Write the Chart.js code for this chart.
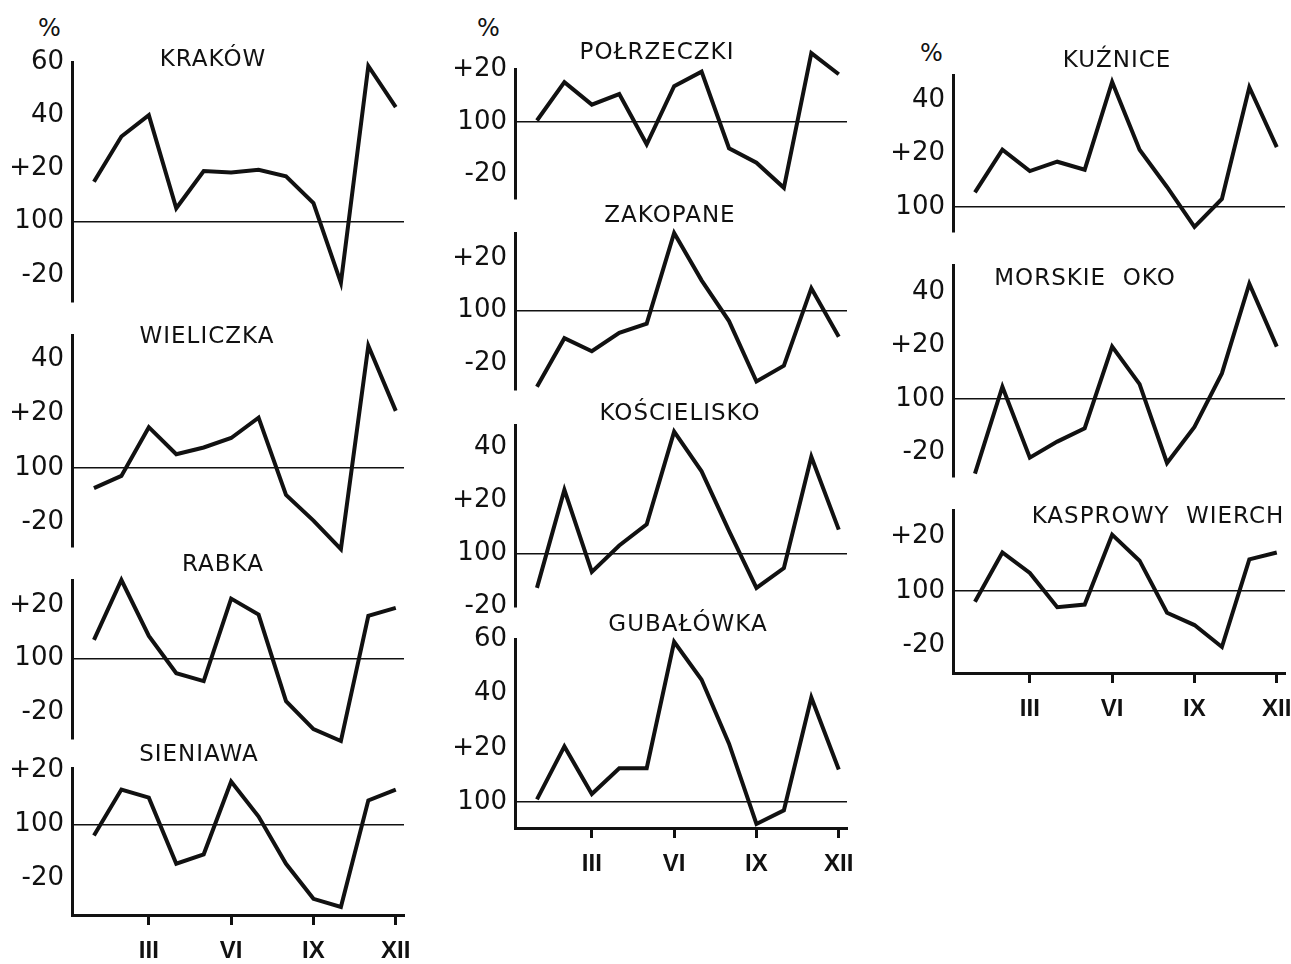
<!DOCTYPE html>
<html>
<head>
<meta charset="utf-8">
<script src="https://cdn.jsdelivr.net/npm/chart.js@4"></script>
<style>
  body { margin: 0; background: #fff; width: 1291px; height: 964px; position: relative; overflow: hidden; }
  .panel { position: absolute; }
  .pct { position: absolute; font: 24px "DejaVu Sans"; color: #111; line-height: 1; }
</style>
</head>
<body>
<div class="pct" style="left:38px;top:16px">%</div>
<div class="pct" style="left:477px;top:16px">%</div>
<div class="pct" style="left:920px;top:41px">%</div>
<script>
// months and tick labels
const months = ["I", "II", "III", "IV", "V", "VI", "VII", "VIII", "IX", "X", "XI", "XII"];
const xTickMonths = [3, 6, 9, 12];
const yTickValues = [-20, 0, 20, 40, 60];
const yTickLabels = ["-20", "100", "+20", "40", "60"];

// deviation from the yearly mean (100 = mean), Jan..Dec
const krakow = [15, 32, 40, 5, 19, 18.5, 19.5, 17, 7, -23, 58.5, 43];
const wieliczka = [-7.5, -3, 15, 5, 7.5, 11, 18.5, -10, -19.5, -30, 45, 21];
const rabka = [7, 29.5, 8.5, -5.5, -8.5, 22.5, 16.5, -16, -26.5, -31, 16, 19];
const sieniawa = [-4, 13, 10, -14.5, -11, 16, 3, -14.5, -27.5, -30.5, 9, 13];
const polrzeczki = [0.5, 15, 6.5, 10.5, -8.5, 13.5, 19, -10, -15.5, -25, 26, 18];
const zakopane = [-29, -10.5, -15.5, -8.5, -5, 29.5, 11.5, -4, -27, -21, 8.5, -10];
const koscielisko = [-13, 24, -7, 3, 11, 46, 31, 8.5, -13, -5.5, 36.5, 9];
const gubalowka = [1, 20.5, 3, 12.5, 12.5, 59, 45, 21.5, -8, -3, 38.5, 12];
const kuznice = [5.5, 21.5, 13.5, 17, 14, 47, 21.5, 7.5, -7.5, 3, 45, 22.5];
const morskieOko = [-28, 4.5, -22, -16, -11, 19.5, 5.5, -24, -10.5, 9.5, 43, 19.5];
const kasprowy = [-4, 14, 6.5, -6, -5, 20.5, 11, -8, -12.5, -20.5, 11.5, 14];

// page layout: axis x, plot area top/height, y range, title centre
const panels = [
  { title: "KRAKÓW", data: krakow, axisX: 72, top: 62, height: 243, min: -30, max: 60, tx: 213, ty: 60 },
  { title: "WIELICZKA", data: wieliczka, axisX: 72, top: 335, height: 215, min: -29, max: 49, tx: 207, ty: 337 },
  { title: "RABKA", data: rabka, axisX: 72, top: 580, height: 162, min: -30, max: 29.5, tx: 223, ty: 565 },
  { title: "SIENIAWA", data: sieniawa, axisX: 72, top: 768, height: 147, min: -33.5, max: 21, tx: 199, ty: 755, xAxis: true },
  { title: "POŁRZECZKI", data: polrzeczki, axisX: 515, top: 69, height: 133, min: -29, max: 20, tx: 657, ty: 53 },
  { title: "ZAKOPANE", data: zakopane, axisX: 515, top: 233, height: 160, min: -30, max: 29.5, tx: 670, ty: 216 },
  { title: "KOŚCIELISKO", data: koscielisko, axisX: 515, top: 425, height: 185, min: -20, max: 48.5, tx: 680, ty: 414 },
  { title: "GUBAŁÓWKA", data: gubalowka, axisX: 515, top: 639, height: 189, min: -9.5, max: 60, tx: 688, ty: 625, xAxis: true },
  { title: "KUŹNICE", data: kuznice, axisX: 953, top: 75, height: 160, min: -9.2, max: 49.6, tx: 1117, ty: 61 },
  { title: "MORSKIE  OKO", data: morskieOko, axisX: 953, top: 265, height: 215, min: -29, max: 50, tx: 1085, ty: 279 },
  { title: "KASPROWY  WIERCH", data: kasprowy, axisX: 953, top: 510, height: 163, min: -30, max: 29.5, tx: 1158, ty: 517, xAxis: true },
];

const AXIS_W = 70;
const PAD_TOP = 30;
const PAD_RIGHT = 30;
const X_AXIS_H = 55;
const PLOT_W = 332;

const panelTitle = {
  id: "panelTitle",
  afterDraw(chart, args, opts) {
    const { ctx } = chart;
    ctx.save();
    ctx.font = "23px 'DejaVu Sans'";
    ctx.letterSpacing = "1px";
    ctx.fillStyle = "#111";
    ctx.textAlign = "center";
    ctx.textBaseline = "middle";
    ctx.fillText(opts.text, opts.x, opts.y);
    ctx.restore();
  },
};

panels.forEach((p) => {
  const left = p.axisX - AXIS_W;
  const top = p.top - PAD_TOP;
  const bottom = p.xAxis ? X_AXIS_H : 20;
  const box = document.createElement("div");
  box.className = "panel";
  box.style.left = left + "px";
  box.style.top = top + "px";
  box.style.width = AXIS_W + PLOT_W + PAD_RIGHT + "px";
  box.style.height = PAD_TOP + p.height + bottom + "px";
  const canvas = document.createElement("canvas");
  box.appendChild(canvas);
  document.body.appendChild(box);

  new Chart(canvas, {
    type: "line",
    data: {
      datasets: [
        {
          data: p.data.map((v, i) => ({ x: i + 1, y: v })),
          borderColor: "#111",
          borderWidth: 4,
          pointRadius: 0,
          tension: 0,
          clip: false,
        },
      ],
    },
    options: {
      responsive: true,
      maintainAspectRatio: false,
      animation: false,
      layout: { padding: { top: PAD_TOP, right: PAD_RIGHT, bottom: p.xAxis ? 0 : 20, left: 0 } },
      plugins: {
        legend: { display: false },
        tooltip: { enabled: false },
        panelTitle: { text: p.title, x: p.tx - left, y: p.ty - top },
      },
      scales: {
        x: {
          type: "linear",
          min: 0.2,
          max: 12.3,
          display: !!p.xAxis,
          afterFit: (s) => { s.height = p.xAxis ? X_AXIS_H : 0; },
          afterBuildTicks: (s) => { s.ticks = xTickMonths.map((v) => ({ value: v })); },
          ticks: {
            callback: (v) => months[v - 1],
            font: { family: "'Liberation Sans Narrow', 'Liberation Sans'", size: 24, weight: "bold" },
            color: "#111",
            padding: 12,
            autoSkip: false,
            maxRotation: 0,
          },
          grid: { drawOnChartArea: false, drawTicks: true, tickLength: 10, tickWidth: 3, tickColor: "#111" },
          border: { display: true, color: "#111", width: 3 },
        },
        y: {
          min: p.min,
          max: p.max,
          afterFit: (s) => { s.width = AXIS_W; },
          afterBuildTicks: (s) => {
            s.ticks = yTickValues.filter((v) => v >= p.min && v <= p.max).map((v) => ({ value: v }));
          },
          ticks: {
            callback: (v) => yTickLabels[yTickValues.indexOf(v)],
            font: { family: "'DejaVu Sans'", size: 26 },
            color: "#111",
            padding: 8,
            autoSkip: false,
          },
          grid: {
            drawTicks: false,
            color: (c) => (c.tick && c.tick.value === 0 ? "#111" : "rgba(0,0,0,0)"),
            lineWidth: 1.5,
          },
          border: { display: true, color: "#111", width: 3 },
        },
      },
    },
    plugins: [panelTitle],
  });
});
</script>
</body>
</html>
